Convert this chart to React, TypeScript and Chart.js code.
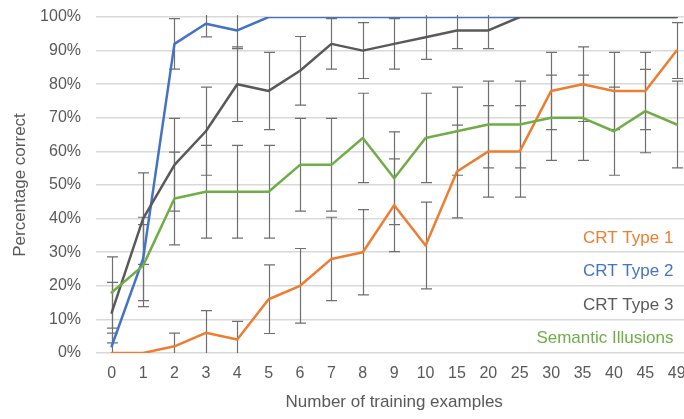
import { useEffect, useRef } from 'react';
import { Chart, registerables } from 'chart.js';

Chart.register(...registerables);

const categories = ['0', '1', '2', '3', '4', '5', '6', '7', '8', '9', '10', '15', '20', '25', '30', '35', '40', '45', '49'];

const crt1 = [0, 0, 2, 6, 4, 16, 20, 28, 30, 44, 32, 54, 60, 60, 78, 80, 78, 78, 90];
const crt1Err = [0, 0, 3.9, 6.6, 5.4, 10.2, 11.1, 12.4, 12.7, 13.8, 12.9, 13.8, 13.6, 13.6, 11.5, 11.1, 11.5, 11.5, 8.3];

const crt2 = [2, 28, 92, 98, 96, 100, 100, 100, 100, 100, 100, 100, 100, 100, 100, 100, 100, 100, 100];
const crt2Err = [3.9, 12.4, 7.5, 3.9, 5.4, 0, 0, 0, 0, 0, 0, 0, 0, 0, 0, 0, 0, 0, 0];

const crt3 = [12, 40, 56, 66, 80, 78, 84, 92, 90, 92, 94, 96, 96, 100, 100, 100, 100, 100, 100];
const crt3Err = [9.0, 13.6, 13.8, 13.1, 11.1, 11.5, 10.2, 7.5, 8.3, 7.5, 6.6, 5.4, 5.4, 0, 0, 0, 0, 0, 0];

const semantic = [18, 26, 46, 48, 48, 48, 56, 56, 64, 52, 64, 66, 68, 68, 70, 70, 66, 72, 68];
const semanticErr = [10.6, 12.2, 13.8, 13.8, 13.8, 13.8, 13.8, 13.8, 13.3, 13.8, 13.3, 13.1, 12.9, 12.9, 12.7, 12.7, 13.1, 12.4, 12.9];

const seriesNames = ['CRT Type 1', 'CRT Type 2', 'CRT Type 3', 'Semantic Illusions'];
const seriesColors = ['#ED7D31', '#4472C4', '#595959', '#70AD47'];
const legendLevels = [34.1, 24.2, 14.3, 4.5];

const FONT = "'Liberation Sans', Arial, sans-serif";
const TEXT = '#595959';

const seriesValues = [crt1, crt2, crt3, semantic];
const seriesErrors = [crt1Err, crt2Err, crt3Err, semanticErr];

const errorBarPlugin = {
  id: 'errorBars',
  beforeDatasetsDraw(chart: any) {
    const { ctx, chartArea, scales } = chart;
    const x = scales.x;
    const y = scales.y;
    ctx.save();
    ctx.beginPath();
    ctx.rect(chartArea.left, chartArea.top - 2, chartArea.right - chartArea.left + 20, chartArea.bottom - chartArea.top + 2);
    ctx.clip();
    ctx.strokeStyle = '#6f6f6f';
    ctx.lineWidth = 1.2;
    const cap = 5.5;
    seriesValues.forEach((vals, s) => {
      const errs = seriesErrors[s];
      vals.forEach((v, i) => {
        const e = errs[i];
        if (!e) return;
        const px = Math.round(x.getPixelForValue(i)) + 0.5;
        const hi = v + e;
        const lo = v - e;
        const pTop = y.getPixelForValue(hi);
        const pBot = y.getPixelForValue(Math.max(0, lo));
        ctx.beginPath();
        ctx.moveTo(px, pTop);
        ctx.lineTo(px, pBot);
        if (hi <= 100.5) {
          ctx.moveTo(px - cap, pTop);
          ctx.lineTo(px + cap, pTop);
        }
        if (lo >= 0) {
          ctx.moveTo(px - cap, pBot);
          ctx.lineTo(px + cap, pBot);
        }
        ctx.stroke();
      });
    });
    ctx.restore();
  },
};

const legendPlugin = {
  id: 'sideLegend',
  afterDraw(chart: any) {
    const { ctx, chartArea, scales } = chart;
    const y = scales.y;
    ctx.save();
    ctx.font = `17px ${FONT}`;
    ctx.textAlign = 'right';
    ctx.textBaseline = 'middle';
    seriesNames.forEach((name, i) => {
      ctx.fillStyle = seriesColors[i];
      ctx.fillText(name, chartArea.right - 19, y.getPixelForValue(legendLevels[i]));
    });
    ctx.restore();
  },
};

export default function App() {
  const ref = useRef<HTMLCanvasElement>(null);

  useEffect(() => {
    const canvas = ref.current;
    if (!canvas) return;
    Chart.defaults.font.family = FONT;
    const orders = [4, 3, 2, 1];
    const chart = new Chart(canvas, {
      type: 'line',
      data: {
        labels: categories,
        datasets: seriesValues.map((vals, i) => ({
          label: seriesNames[i],
          data: vals,
          borderColor: seriesColors[i],
          backgroundColor: seriesColors[i],
          borderWidth: 2.5,
          pointRadius: 0,
          pointHoverRadius: 0,
          tension: 0,
          fill: false,
          borderJoinStyle: 'round' as const,
          borderCapStyle: 'round' as const,
          order: orders[i],
        })),
      },
      options: {
        responsive: false,
        animation: false,
        devicePixelRatio: 1,
        layout: { padding: { top: 17, right: 7.6, left: 0, bottom: 0 } },
        plugins: {
          legend: { display: false },
          tooltip: { enabled: false },
        },
        scales: {
          x: {
            type: 'category',
            offset: true,
            grid: { display: false, drawTicks: false },
            border: { display: false },
            ticks: { color: TEXT, font: { size: 16 }, padding: 11, maxRotation: 0, autoSkip: false },
            title: {
              display: true,
              text: 'Number of training examples',
              color: TEXT,
              font: { size: 17 },
              padding: { top: 0, bottom: 6 },
            },
            afterFit: (s: any) => {
              s.height = 66;
              s.paddingLeft = 0;
              s.paddingRight = 0;
            },
          },
          y: {
            min: 0,
            max: 100,
            ticks: {
              stepSize: 10,
              color: TEXT,
              font: { size: 16 },
              padding: 15,
              callback: (v: any) => `${v}%`,
            },
            grid: { color: '#d9d9d9', lineWidth: 1.5, drawTicks: false },
            border: { display: false },
            title: {
              display: true,
              text: 'Percentage correct',
              color: TEXT,
              font: { size: 17 },
              padding: { top: 10, bottom: 0 },
            },
            afterFit: (s: any) => {
              s.width = 96;
              s.paddingTop = 0;
              s.paddingBottom = 0;
            },
          },
        },
      },
      plugins: [errorBarPlugin, legendPlugin],
    });
    return () => chart.destroy();
  }, []);

  return (
    <div style={{ position: 'fixed', left: 0, top: 0, width: 684, height: 419, overflow: 'hidden', background: '#fff' }}>
      <canvas ref={ref} width={700} height={419} style={{ display: 'block', width: 700, height: 419 }} />
    </div>
  );
}
